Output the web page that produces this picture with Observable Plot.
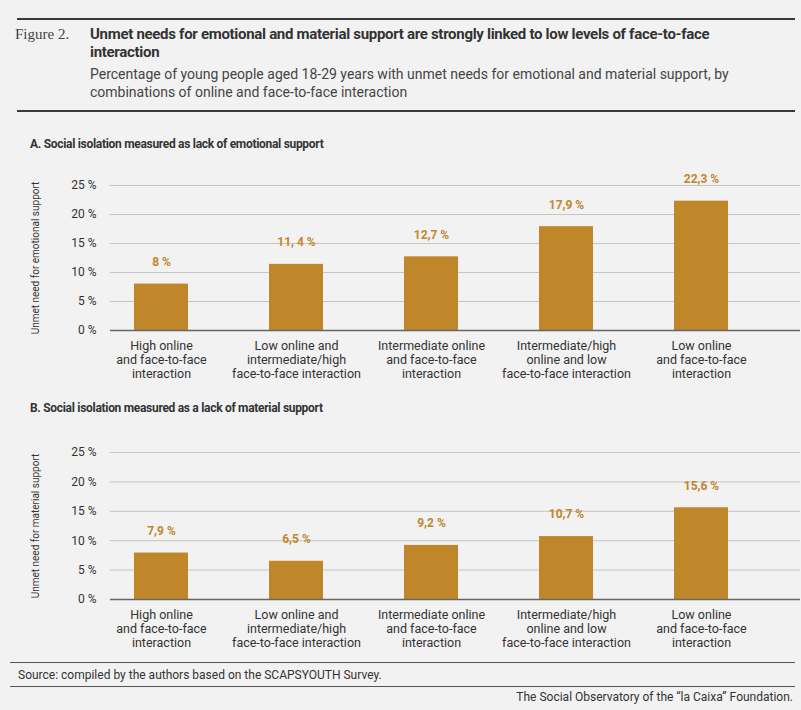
<!DOCTYPE html>
<html><head><meta charset="utf-8">
<script src="https://cdn.jsdelivr.net/npm/d3@7"></script>
<script src="https://cdn.jsdelivr.net/npm/@observablehq/plot@0.6"></script>
<style>
body{margin:0;background:#f2f2f2;font-family:Roboto,sans-serif;color:#333;}
#w{position:relative;width:801px;height:710px;overflow:hidden;}
.a{position:absolute;}
.rule{position:absolute;left:17px;width:778px;height:2px;background:#3a3a3a;}
.thin{position:absolute;left:10px;width:785px;height:1px;background:#555;}
.cond{font-family:Roboto,sans-serif;font-weight:bold;letter-spacing:-0.3px;}
</style></head><body><div id="w">
<div class="rule" style="top:18px"></div>
<div class="a" style="left:15px;top:26px;font-family:'Liberation Serif',serif;font-size:15px;color:#444">Figure 2.</div>
<div class="a cond" style="left:90px;top:25px;font-size:15px;line-height:18px;width:700px;color:#333">Unmet needs for emotional and material support are strongly linked to low levels of face-to-face<br>interaction</div>
<div class="a" style="left:90px;top:65px;font-size:14px;line-height:18px;width:690px;color:#444">Percentage of young people aged 18-29 years with unmet needs for emotional and material support, by combinations of online and face-to-face interaction</div>
<div class="rule" style="top:110px"></div>
<div class="a cond" style="left:30px;top:137px;font-size:12px;color:#333">A. Social isolation measured as lack of emotional support</div>
<div class="a" id="c1" style="left:0;top:165px"></div>
<div class="a cond" style="left:30px;top:401px;font-size:12px;color:#333">B. Social isolation measured as a lack of material support</div>
<div class="a" id="c2" style="left:0;top:432px"></div>
<div class="thin" style="top:662px"></div>
<div class="a" style="left:18px;top:668px;font-size:12px;color:#333">Source: compiled by the authors based on the SCAPSYOUTH Survey.</div>
<div class="thin" style="top:686px"></div>
<div class="a" style="right:8px;top:690px;font-size:12px;color:#333">The Social Observatory of the “la Caixa” Foundation.</div>
</div>
<script>
const categories = ["High online\nand face-to-face\ninteraction","Low online and\nintermediate/high\nface-to-face interaction","Intermediate online\nand face-to-face\ninteraction","Intermediate/high\nonline and low\nface-to-face interaction","Low online\nand face-to-face\ninteraction"];
const emotional = [8,11.4,12.7,17.9,22.3];
const emotionalLabels = ["8 %","11, 4 %","12,7 %","17,9 %","22,3 %"];
const material = [7.9,6.5,9.2,10.7,15.6];
const materialLabels = ["7,9 %","6,5 %","9,2 %","10,7 %","15,6 %"];
const yTicks = [0,5,10,15,20,25];
const gold = "#c0872a";
function chart(vals, labels, ylabel, h, plotH){
  const data = categories.map((c,i)=>({c, v:vals[i], l:labels[i]}));
  return Plot.plot({
    width:801, height:h, marginTop:20, marginBottom:h-20-plotH, marginLeft:110, marginRight:1,
    style:{background:"transparent", fontFamily:"Roboto,sans-serif", fontSize:"12px", color:"#333"},
    x:{domain:categories, paddingInner:0.6, paddingOuter:0.337, align:0.25, label:null},
    y:{domain:[0,25], ticks:yTicks, tickFormat:d=>d+" %", label:null, tickSize:0, tickPadding:14},
    marks:[
      Plot.ruleY(yTicks.slice(1), {stroke:"#c4c4c4", strokeWidth:1}),
      Plot.barY(data, {x:"c", y:"v", fill:gold}),
      Plot.ruleY([0], {stroke:"#666", strokeWidth:1.5}),
      Plot.axisX({tickSize:0, tickPadding:10, lineHeight:1.1, fontSize:12.5, label:null}),
      Plot.text(data, {x:"c", y:"v", text:"l", dy:-22, fill:gold, fontWeight:"bold", fontSize:12}),
      Plot.text([ylabel], {frameAnchor:"left", textAnchor:"middle", dx:-75, rotate:-90, fontSize:10, fill:"#333"})
    ]
  });
}
document.getElementById("c1").append(chart(emotional, emotionalLabels, "Unmet need for emotional support", 230, 145));
document.getElementById("c2").append(chart(material, materialLabels, "Unmet need for material support", 226, 147));
</script></body></html>
